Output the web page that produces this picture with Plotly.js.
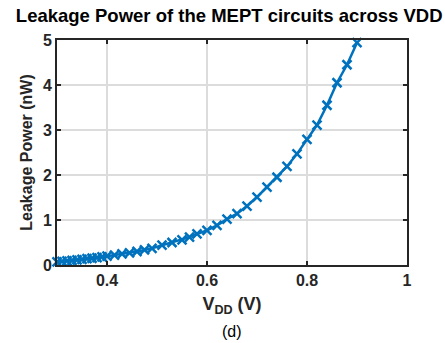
<!DOCTYPE html>
<html>
<head>
<meta charset="utf-8">
<script src="https://cdn.plot.ly/plotly-3.0.1.min.js"></script>
<style>html,body{margin:0;padding:0;background:#fff;}#chart{width:445px;height:343px;}</style>
</head>
<body>
<div id="chart"></div>
<script>
var vdd = [0.30,0.31,0.32,0.33,0.34,0.35,0.36,0.37,0.38,0.39,0.40,0.415,0.43,0.445,0.46,0.475,0.49,0.51,0.53,0.55,0.565,0.58,0.60,0.62,0.64,0.66,0.68,0.70,0.72,0.74,0.76,0.78,0.80,0.82,0.84,0.86,0.88,0.90];
var leakage = [0.07,0.08,0.09,0.10,0.115,0.125,0.14,0.15,0.165,0.18,0.195,0.22,0.245,0.27,0.30,0.335,0.37,0.44,0.50,0.56,0.62,0.69,0.77,0.88,1.02,1.14,1.31,1.51,1.73,1.95,2.19,2.47,2.79,3.11,3.55,4.05,4.45,4.94];
var xTickVals = [0.4,0.6,0.8,1];
var xTickText = ["0.4","0.6","0.8","1"];
var yTickVals = [0,1,2,3,4,5];

var font = "Liberation Sans, Arial, sans-serif";
var trace = {
  x: vdd, y: leakage, type: "scatter", mode: "lines+markers",
  line: {color: "#0072BD", width: 2.5},
  marker: {symbol: "x-thin", size: 9, color: "#0072BD", line: {color: "#0072BD", width: 2.5}},
  cliponaxis: false, showlegend: false
};
var axisCommon = {
  showline: true, linecolor: "#262626", linewidth: 2, mirror: "ticks",
  ticks: "inside", ticklen: 4, tickwidth: 1.5, tickcolor: "#262626",
  showgrid: true, gridcolor: "#dcdcdc", gridwidth: 1.5, zeroline: false,
  tickfont: {family: font, size: 16, color: "#262626", weight: "bold"}
};
var layout = {
  width: 445, height: 343,
  margin: {l: 57, r: 38, t: 40, b: 78},
  paper_bgcolor: "#fff", plot_bgcolor: "#fff",
  title: {text: "<b>Leakage Power of the MEPT circuits across VDD</b>", x: 0.515, xanchor: "center", y: 0.955, yanchor: "middle",
          font: {family: font, size: 18.5, color: "#000"}},
  xaxis: Object.assign({}, axisCommon, {
    range: [0.3, 1], tickmode: "array", tickvals: xTickVals, ticktext: xTickText,
    title: {text: "<b>V<sub>DD</sub> (V)</b>", font: {family: font, size: 18, color: "#262626"}, standoff: 9}
  }),
  yaxis: Object.assign({}, axisCommon, {
    range: [0, 5], tickmode: "array", tickvals: yTickVals,
    title: {text: "Leakage Power (nW)", font: {family: font, size: 16, color: "#262626", weight: "bold"}, standoff: 6}
  }),
  annotations: [{text: "(d)", xref: "paper", yref: "paper", x: 0.5, y: -0.295, xanchor: "center", yanchor: "middle",
                 showarrow: false, font: {family: font, size: 16, color: "#000"}}]
};
Plotly.newPlot("chart", [trace], layout, {staticPlot: true, displayModeBar: false});
</script>
</body>
</html>
